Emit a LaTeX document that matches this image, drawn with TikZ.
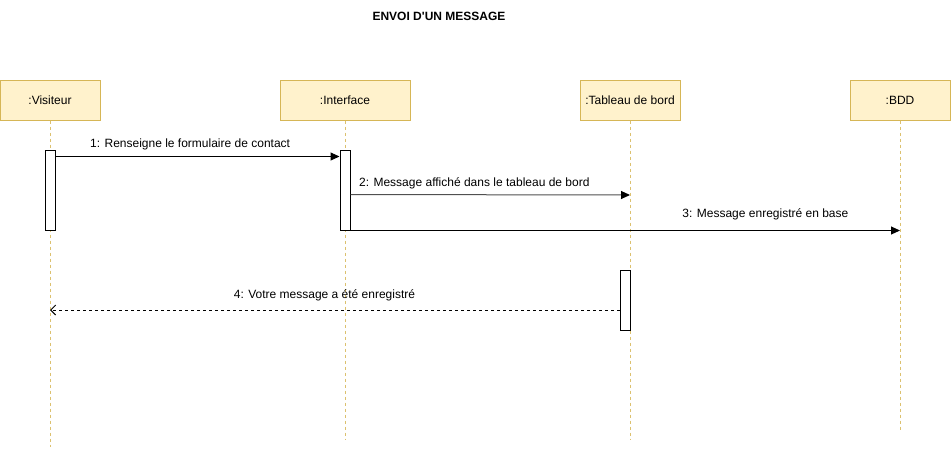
\documentclass[tikz,border=0pt]{standalone}
\usepackage{fontspec}
\setmainfont{Liberation Sans}
\usetikzlibrary{arrows.meta}
\definecolor{boxfill}{HTML}{FFF2CC}
\definecolor{boxline}{HTML}{D6B656}
\definecolor{msggray}{HTML}{505050}
\begin{document}
\begin{tikzpicture}[x=1pt, y=-1pt, font=\fontsize{12}{14}\selectfont, line width=1pt]
    \tikzset{participant/.style={draw=boxline,fill=boxfill,minimum width=100pt,minimum height=40pt,inner sep=0pt},
             lifeline/.style={draw=boxline!85!white,dash pattern=on 3pt off 3pt},
             activation/.style={draw,fill=white,minimum width=10pt,inner sep=0pt},
             msg/.style={-{Triangle[length=9pt,width=8pt,color=black]}},
             reply/.style={dash pattern=on 3pt off 3pt,-{Straight Barb[length=5pt,width=10pt,line width=1pt]}}}
    \useasboundingbox (0,0) rectangle (951,451);

    % Title
    \node[font=\fontsize{12}{14}\selectfont\bfseries] (title) at (439,16) {ENVOI D\textquotesingle UN MESSAGE};

    % Participants
    \node[participant] (visiteur) at (50,100) {:Visiteur};
    \node[participant, minimum width=130pt] (interface) at (345,100) {:Interface};
    \node[participant] (tableau) at (630,100) {:Tableau de bord};
    \node[participant] (bdd) at (900,100) {:BDD};

    % Lifelines
    \coordinate (end_v) at (50,447);
    \coordinate (end_i) at (345,440);
    \coordinate (end_t) at (630,440);
    \coordinate (end_b) at (900,430);
    \draw[lifeline] (visiteur) -- (end_v);
    \draw[lifeline] (interface) -- (end_i);
    \draw[lifeline] (tableau) -- (end_t);
    \draw[lifeline] (bdd) -- (end_b);

    % Activation bars
    \node[activation, minimum height=80pt] (act_v) at (50,190) {};
    \node[activation, minimum height=80pt] (act_i) at (345,190) {};
    \node[activation, minimum height=60pt] (act_t) at (625,300) {};

    % 1: Visiteur -> Interface
    \draw[msg] ([yshift=-7pt]act_v.north east) -- ([yshift=-7pt]act_i.north west)
        node[pos=0.474, yshift=12pt] {1: Renseigne le formulaire de contact};

    % 2: Interface -> Tableau de bord
    \coordinate (m2_end) at (630,195);
    \draw[msg, msggray] ([yshift=-45pt]act_i.north east) -- (m2_end)
        node[pos=0.443, yshift=11pt, black] {2: Message affiché dans le tableau de bord};

    % 3: Interface -> BDD
    \draw[msg] (act_i.south east) -- (act_i.south east -| bdd.south)
        node[pos=0.755, yshift=16pt] {3: Message enregistré en base};

    % 4: reply to Visiteur
    \coordinate (m4_end) at (50,310);
    \draw[reply] ([yshift=-10pt]act_t.west) -- (m4_end)
        node[pos=0.518, yshift=15pt] {4: Votre message a été enregistré};

\end{tikzpicture}
\end{document}
